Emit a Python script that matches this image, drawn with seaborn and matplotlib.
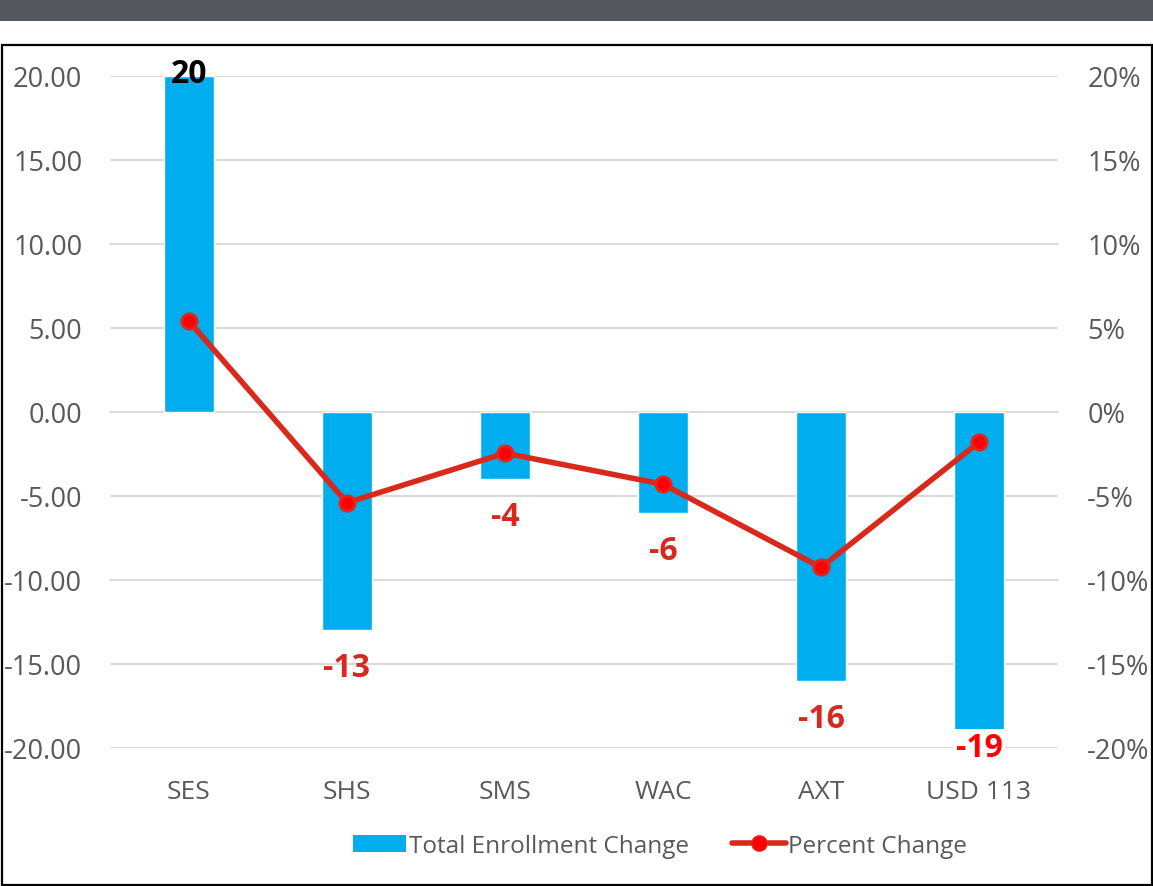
import matplotlib
matplotlib.use("Agg")
import matplotlib.pyplot as plt
import seaborn as sns
import pandas as pd
from matplotlib.patches import Rectangle, Patch
from matplotlib.lines import Line2D
from matplotlib.ticker import PercentFormatter, FormatStrFormatter

categories = ["SES", "SHS", "SMS", "WAC", "AXT", "USD 113"]
enrollment_change = [20, -13, -4, -6, -16, -19]
percent_change = [0.054, -0.054, -0.0245, -0.043, -0.0925, -0.018]
left_ticks = [-20, -15, -10, -5, 0, 5, 10, 15, 20]
right_ticks = [-0.20, -0.15, -0.10, -0.05, 0, 0.05, 0.10, 0.15, 0.20]

df = pd.DataFrame({"cat": categories, "enr": enrollment_change, "pct": percent_change})

sns.set_theme(style="white")
plt.rcParams["font.family"] = ["Open Sans", "DejaVu Sans"]
plt.rcParams["axes.unicode_minus"] = False

W, H = 1153, 887
fig = plt.figure(figsize=(W / 100, H / 100), dpi=100)

# top dark band and frame
fig.patches.append(Rectangle((0, 1 - 22 / H), 1, 22 / H, transform=fig.transFigure,
                             facecolor="#53565A", edgecolor="none", zorder=0))
fig.patches.append(Rectangle((1.5 / W, 1.5 / H), (W - 3) / W, (885 - 45) / H,
                             transform=fig.transFigure, facecolor="none",
                             edgecolor="black", linewidth=1.6, zorder=0))

ax = fig.add_axes([110 / W, 1 - 749 / H, (1058 - 110) / W, (749 - 77) / H])
bar_color = "#00AEEF"
sns.barplot(data=df, x="cat", y="enr", color=bar_color, width=0.32, saturation=1,
            ax=ax, zorder=2)
ax.set_ylim(-20, 20)
ax.set_xlim(-0.5, 5.5)
ax.set_yticks(left_ticks)
ax.yaxis.set_major_formatter(FormatStrFormatter("%.2f"))
ax.grid(axis="y", color="#D9D9D9", linewidth=1.4, zorder=0)
ax.set_axisbelow(True)
for s in ax.spines.values():
    s.set_visible(False)
ax.set_xlabel("")
ax.set_ylabel("")
ax.tick_params(axis="y", length=0, pad=20, labelsize=19.5, labelcolor="#595959")
ax.tick_params(axis="x", length=0, pad=22, labelsize=19, labelcolor="#595959")

# bar value labels
for i, v in enumerate(enrollment_change):
    if v > 0:
        ax.annotate(f"{v}", (i, v), xytext=(0, 2), textcoords="offset points",
                    ha="center", va="center", fontsize=23, fontweight="bold", color="black",
                    zorder=5)
    elif i == len(enrollment_change) - 1:
        ax.annotate(f"{v}", (i, v), xytext=(0, -12), textcoords="offset points",
                    ha="center", va="center", fontsize=23, fontweight="bold", color="#FF0000",
                    bbox=dict(facecolor="white", edgecolor="none", pad=1.5), zorder=5)
    else:
        ax.annotate(f"{v}", (i, v), xytext=(0, -27), textcoords="offset points",
                    ha="center", va="center", fontsize=23, fontweight="bold", color="#D62A1E",
                    zorder=5)

ax2 = ax.twinx()
line_color = "#D9291C"
sns.pointplot(data=df, x="cat", y="pct", color=line_color, markers="o",
              linestyles="-", ax=ax2, errorbar=None)
for ln in ax2.lines:
    ln.set_linewidth(4)
    ln.set_markersize(11)
    ln.set_markerfacecolor("#FF0000")
    ln.set_markeredgecolor("#E8231B")
for c in ax2.collections:
    c.set_facecolor("#FF0000")
    c.set_edgecolor("#E8231B")
    c.set_sizes([130])
ax2.set_ylim(-0.2, 0.2)
ax2.set_xlim(-0.5, 5.5)
ax2.set_yticks(right_ticks)
ax2.yaxis.set_major_formatter(PercentFormatter(1, decimals=0))
for s in ax2.spines.values():
    s.set_visible(False)
ax2.set_ylabel("")
ax2.set_xlabel("")
ax2.grid(False)
ax2.tick_params(axis="y", length=0, pad=21, labelsize=19.5, labelcolor="#595959")

handles = [Patch(facecolor=bar_color, edgecolor="none"),
           Line2D([0], [0], color=line_color, linewidth=4, marker="o", markersize=11,
                  markerfacecolor="#FF0000", markeredgecolor="#E8231B")]
fig.legend(handles, ["Total Enrollment Change", "Percent Change"], loc="center",
           bbox_to_anchor=(660 / W, 1 - 847 / H), ncol=2, frameon=False, fontsize=17.5,
           labelcolor="#595959", handlelength=2.2, handleheight=0.7, handletextpad=0.1,
           columnspacing=1.8)

fig.savefig("out.png", dpi=100)
